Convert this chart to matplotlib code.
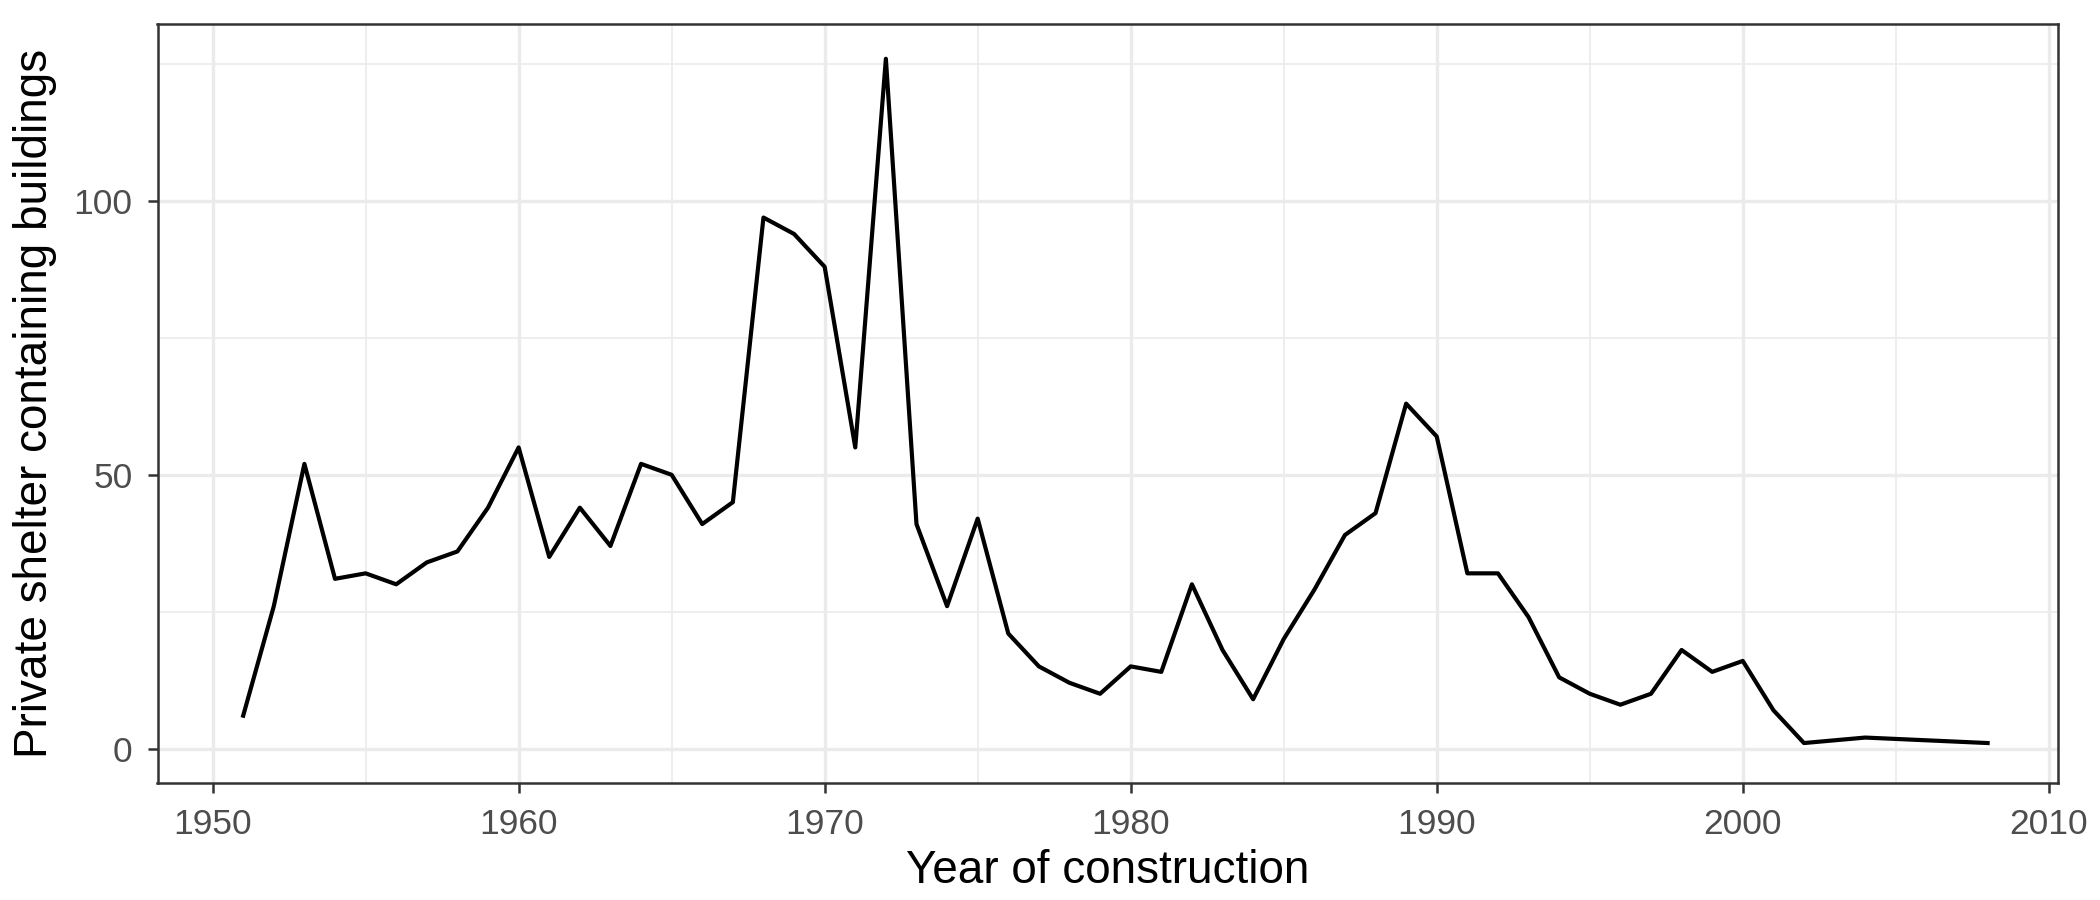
import matplotlib.pyplot as plt
from matplotlib.ticker import MultipleLocator

years = [1951, 1952, 1953, 1954, 1955, 1956, 1957, 1958, 1959, 1960,
         1961, 1962, 1963, 1964, 1965, 1966, 1967, 1968, 1969, 1970,
         1971, 1972, 1973, 1974, 1975, 1976, 1977, 1978, 1979, 1980,
         1981, 1982, 1983, 1984, 1985, 1986, 1987, 1988, 1989, 1990,
         1991, 1992, 1993, 1994, 1995, 1996, 1997, 1998, 1999, 2000,
         2001, 2002, 2004, 2008]
counts = [6, 26, 52, 31, 32, 30, 34, 36, 44, 55,
          35, 44, 37, 52, 50, 41, 45, 97, 94, 88,
          55, 126, 41, 26, 42, 21, 15, 12, 10, 15,
          14, 30, 18, 9, 20, 29, 39, 43, 63, 57,
          32, 32, 24, 13, 10, 8, 10, 18, 14, 16,
          7, 1, 2, 1]

plt.rcParams['font.family'] = ['Liberation Sans', 'DejaVu Sans']
fig = plt.figure(figsize=(7, 3), dpi=300)
ax = fig.add_axes([0.075, 0.13, 0.905, 0.843])

ax.plot(years, counts, color='black', lw=1.0)

ax.set_xlim(1948.2, 2010.3)
ax.set_ylim(-0.05 * 126, 126 * 1.05)
ax.xaxis.set_major_locator(MultipleLocator(10))
ax.xaxis.set_minor_locator(MultipleLocator(5))
ax.yaxis.set_major_locator(MultipleLocator(50))
ax.yaxis.set_minor_locator(MultipleLocator(25))
ax.grid(which='major', color='#ebebeb', lw=0.8)
ax.grid(which='minor', color='#ebebeb', lw=0.4)
ax.set_axisbelow(True)
for s in ax.spines.values():
    s.set_color('#333333')
    s.set_linewidth(0.6)
ax.tick_params(which='major', colors='#333333', labelcolor='#4d4d4d', labelsize=8.5, length=2.5, width=0.6)
ax.tick_params(which='minor', length=0)

ax.set_xlabel('Year of construction', fontsize=11, labelpad=2)
ax.set_ylabel('Private shelter containing buildings', fontsize=11, labelpad=4)

fig.savefig('out.png', dpi=300)
